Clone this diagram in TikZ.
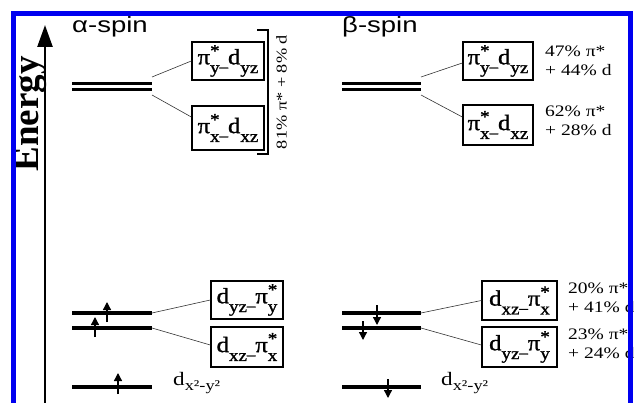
\documentclass[tikz,border=0pt]{standalone}
\usepackage{fontspec}
\setmainfont{Liberation Serif}
\newfontfamily\spinfont{Liberation Sans}
\newfontfamily\orbfont{Liberation Serif}[FakeBold=1.2]
\usetikzlibrary{arrows.meta}

\definecolor{frameblue}{RGB}{0,0,240}

% font size helper and the wide Times look of the labels
\newcommand{\tsz}[1]{\fontsize{#1}{#1}\selectfont}
\newcommand{\wide}[1]{\scalebox{1.22}[1]{#1}}
\newcommand{\orbwide}[1]{\scalebox{1.12}[1]{#1}}
% orbital label pieces: lowered index, star over index, low underscore
\newcommand{\orbsub}[1]{\raisebox{-0.4em}{\tsz{17}#1}}
\newcommand{\orbstar}[1]{\makebox[0pt][l]{\raisebox{0.36em}{\tsz{17}*}}\orbsub{#1}}
\newcommand{\uscore}{\raisebox{-0.1em}{\tsz{15}\_}}

\tikzset{
  orbbox/.style={draw, line width=1.4pt, inner sep=1pt, font=\orbfont\tsz{22}},
  level/.style={line width=3.3pt},
  link/.style={line width=0.6pt, black!80},
  spin/.style={line width=1.3pt, -{Triangle[width=8pt,length=8pt]}},
  pct/.style={anchor=west, align=left, inner sep=0pt, font=\fontsize{16}{19.5}\selectfont},
  spinhead/.style={anchor=base west, inner sep=0pt, font=\spinfont\tsz{22}},
  dlabel/.style={anchor=base west, inner sep=0pt, font=\tsz{19}},
}

\begin{document}
\begin{tikzpicture}[x=1pt, y=-1pt]
\useasboundingbox (0,0) rectangle (634,403);

% energy axis
\coordinate (axbot) at (45,410);
\coordinate (axtop) at (45,25);
\draw[line width=2.5pt, -{Triangle[width=15pt,length=22pt]}] (axbot) -- (axtop);
\node[rotate=90, anchor=base, inner sep=0pt, font=\tsz{37}\bfseries] (energy) at (38.5,114) {Energy};

% column headings
\node[spinhead] (alpha) at (72,32.5) {\scalebox{1.25}[1]{α-spin}};
\node[spinhead] (beta) at (342,32.5) {\scalebox{1.25}[1]{β-spin}};

% ---------- alpha, upper pair ----------
\draw[level, line width=3pt] (72,83.5) -- (152,83.5);
\draw[level, line width=3pt] (72,90) -- (152,90);
\coordinate (aU1) at (152,77);
\coordinate (aU2) at (152,95);
\node[orbbox, minimum width=72pt, minimum height=38pt] (A1) at (228,61) {\orbwide{π\orbstar{y}\uscore d\orbsub{yz}}};
\node[orbbox, minimum width=72pt, minimum height=44pt] (A2) at (228,128) {\orbwide{π\orbstar{x}\uscore d\orbsub{xz}}};
\draw[link] (aU1) -- (A1.west);
\draw[link] (aU2) -- ([yshift=11pt]A2.west);
% bracket with composition
\draw[line width=1.3pt] (257,30) -- (268,30) -- (268,154) -- (257,154);
\node[rotate=90, inner sep=0pt, font=\tsz{15}] (acomp) at (281.5,92) {\wide{81\% π* + 8\% d}};

% ---------- beta, upper pair ----------
\draw[level, line width=3pt] (342,83.5) -- (421,83.5);
\draw[level, line width=3pt] (342,90) -- (421,90);
\coordinate (bU1) at (421,77);
\coordinate (bU2) at (421,95);
\node[orbbox, minimum width=70pt, minimum height=38pt] (B1) at (498,61) {\orbwide{π\orbstar{y}\uscore d\orbsub{yz}}};
\node[orbbox, minimum width=70pt, minimum height=40pt] (B2) at (498,125) {\orbwide{π\orbstar{x}\uscore d\orbsub{xz}}};
\draw[link] (bU1) -- ([yshift=-2pt]B1.west);
\draw[link] (bU2) -- ([yshift=8pt]B2.west);
\node[pct] (b1pct) at (545,61) {\wide{47\% π*}\\\wide{+ 44\% d}};
\node[pct] (b2pct) at (545,121) {\wide{62\% π*}\\\wide{+ 28\% d}};

% ---------- alpha, lower levels ----------
\draw[level] (72,313) -- (152,313);
\draw[level] (72,328) -- (152,328);
\draw[level] (72,387) -- (152,387);
\coordinate (aL1) at (152,313);
\coordinate (aL2) at (152,328);
\draw[spin] (107,322) -- (107,302);
\draw[spin] (95,337) -- (95,317);
\draw[spin] (118,394) -- (118,373);
\node[orbbox, minimum width=72pt, minimum height=38pt] (A3) at (247,300) {\orbwide{d\orbsub{yz}\uscore π\orbstar{y}}};
\node[orbbox, minimum width=72pt, minimum height=40pt] (A4) at (247,347) {\orbwide{d\orbsub{xz}\uscore π\orbstar{x}}};
\draw[link] (aL1) -- (A3.west);
\draw[link] (aL2) -- ([yshift=2pt]A4.west);
\node[dlabel] (adx) at (173,385) {\wide{d\raisebox{-0.3em}{\tsz{15}x²-y²}}};

% ---------- beta, lower levels ----------
\draw[level] (342,313) -- (421,313);
\draw[level] (342,328) -- (421,328);
\draw[level] (342,387) -- (421,387);
\coordinate (bL1) at (421,313);
\coordinate (bL2) at (421,328);
\draw[spin] (377,305) -- (377,325);
\draw[spin] (363,321) -- (363,340);
\draw[spin] (388,379) -- (388,398);
\node[orbbox, minimum width=75pt, minimum height=39pt] (B3) at (519.5,300.5) {\orbwide{d\orbsub{xz}\uscore π\orbstar{x}}};
\node[orbbox, minimum width=75pt, minimum height=40pt] (B4) at (519.5,347) {\orbwide{d\orbsub{yz}\uscore π\orbstar{y}}};
\draw[link] (bL1) -- (B3.west);
\draw[link] (bL2) -- ([yshift=2pt]B4.west);
\node[pct] (b3pct) at (568,298) {\wide{20\% π*}\\\wide{+ 41\% d}};
\node[pct] (b4pct) at (568,344) {\wide{23\% π*}\\\wide{+ 24\% d}};
\node[dlabel] (bdx) at (441,385) {\wide{d\raisebox{-0.3em}{\tsz{15}x²-y²}}};

% blue frame, open at the bottom
\draw[frameblue, line width=5pt] (13,410) -- (13,13.5) -- (630.5,13.5) -- (630.5,410);
\end{tikzpicture}
\end{document}
